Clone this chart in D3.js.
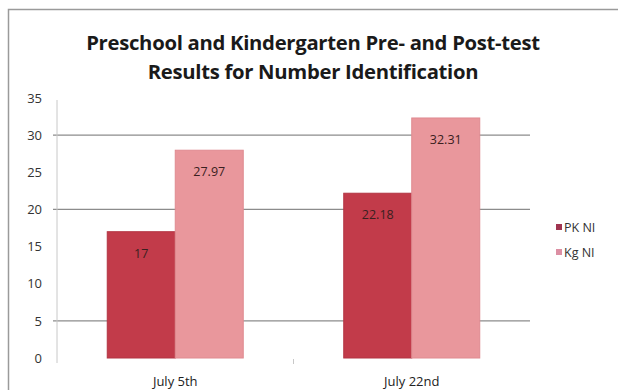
<!DOCTYPE html>
<html>
<head>
<meta charset="utf-8">
<script src="https://cdn.jsdelivr.net/npm/d3@7"></script>
<style>
  html, body { margin: 0; padding: 0; background: #fff; }
  svg { display: block; }
  text { font-family: "Open Sans", Lato, sans-serif; }
</style>
</head>
<body>
<svg id="chart" width="618" height="390"></svg>
<script>
// Test dates and mean Number Identification scores
const categories = ["July 5th", "July 22nd"];
const seriesNames = ["PK NI", "Kg NI"];
const pkValues = [17, 22.18];
const kgValues = [27.97, 32.31];
const valueLabels = [["17", "27.97"], ["22.18", "32.31"]];
const yTicks = [0, 5, 10, 15, 20, 25, 30, 35];
const gridTicks = [5, 20, 30];
const titleLines = ["Preschool and Kindergarten Pre- and Post-test", "Results for Number Identification"];

const colors = ["#c23b4a", "#e9979c"];
const legendColors = ["#a03450", "#dc8fa3"];

const svg = d3.select("#chart");

// outer chart frame
svg.append("rect")
  .attr("x", 8.5).attr("y", 9.5)
  .attr("width", 640).attr("height", 400)
  .attr("fill", "#fff")
  .attr("stroke", "#9a9a9a").attr("stroke-width", 1.5);

const plot = { left: 57, right: 530, top: 98, bottom: 358 };

const x = d3.scaleBand().domain(categories).range([plot.left, plot.right]);
const inner = d3.scaleBand().domain(seriesNames).range([0, 136]);
const y = d3.scaleLinear().domain([0, 35]).range([plot.bottom, plot.top]);

// title
svg.append("g").selectAll("text").data(titleLines).join("text")
  .attr("x", 313).attr("y", (d, i) => 50 + i * 29)
  .attr("text-anchor", "middle")
  .attr("font-size", 20.3).attr("font-weight", "bold").attr("fill", "#1a1a1a")
  .attr("letter-spacing", -0.3)
  .text(d => d);

// horizontal gridlines
svg.append("g").selectAll("line").data(gridTicks).join("line")
  .attr("x1", plot.left - 4).attr("x2", plot.right)
  .attr("y1", d => y(d)).attr("y2", d => y(d))
  .attr("stroke", "#8c8c8c").attr("stroke-width", 1.2);

// y axis
const yAxis = svg.append("g")
  .attr("transform", `translate(${plot.left},0)`)
  .call(d3.axisLeft(y).tickValues(yTicks).tickSize(0).tickPadding(15));
yAxis.select(".domain").attr("stroke", "#c8c8c8").attr("d", `M0,${plot.top + 2}V${plot.bottom + 5}`);
yAxis.selectAll("text").attr("font-size", 13).attr("fill", "#333")
  .style("font-family", "'Open Sans', sans-serif");

// x axis labels and middle tick
const xAxis = svg.append("g")
  .attr("transform", `translate(0,${plot.bottom})`)
  .call(d3.axisBottom(x).tickSize(0).tickPadding(19));
xAxis.select(".domain").remove();
xAxis.selectAll("text").attr("font-size", 13).attr("fill", "#222")
  .style("font-family", "'Open Sans', sans-serif");
svg.append("line")
  .attr("x1", x("July 22nd")).attr("x2", x("July 22nd"))
  .attr("y1", plot.bottom + 1).attr("y2", plot.bottom + 6)
  .attr("stroke", "#c8c8c8");

// bars
const rows = categories.map((c, i) => ({ cat: c, vals: [pkValues[i], kgValues[i]], labels: valueLabels[i] }));
const offset = (x.bandwidth() - inner.range()[1]) / 2;
const groups = svg.append("g").selectAll("g").data(rows).join("g")
  .attr("transform", d => `translate(${x(d.cat) + offset},0)`);

groups.selectAll("rect").data(d => d.vals.map((v, j) => ({ v, j, s: seriesNames[j] }))).join("rect")
  .attr("x", d => inner(d.s))
  .attr("width", inner.bandwidth())
  .attr("y", d => y(d.v))
  .attr("height", d => y(0) - y(d.v))
  .attr("fill", d => colors[d.j])
  .attr("stroke", d => d.j === 0 ? "#b23543" : "#df8a90")
  .attr("stroke-width", 1);

groups.selectAll("text").data(d => d.vals.map((v, j) => ({ v, j, s: seriesNames[j], t: d.labels[j] }))).join("text")
  .attr("x", d => inner(d.s) + inner.bandwidth() / 2)
  .attr("y", d => y(d.v) + 26)
  .attr("text-anchor", "middle")
  .attr("font-size", 12.5).attr("fill", "#3a2020")
  .text(d => d.t);

// legend
const legend = svg.append("g").selectAll("g").data(seriesNames).join("g")
  .attr("transform", (d, i) => `translate(556,${224 + i * 25})`);
legend.append("rect").attr("width", 6).attr("height", 6)
  .attr("fill", (d, i) => legendColors[i]);
legend.append("text").attr("x", 8).attr("y", 8)
  .attr("font-size", 12.5).attr("fill", "#333")
  .text(d => d);
</script>
</body>
</html>
